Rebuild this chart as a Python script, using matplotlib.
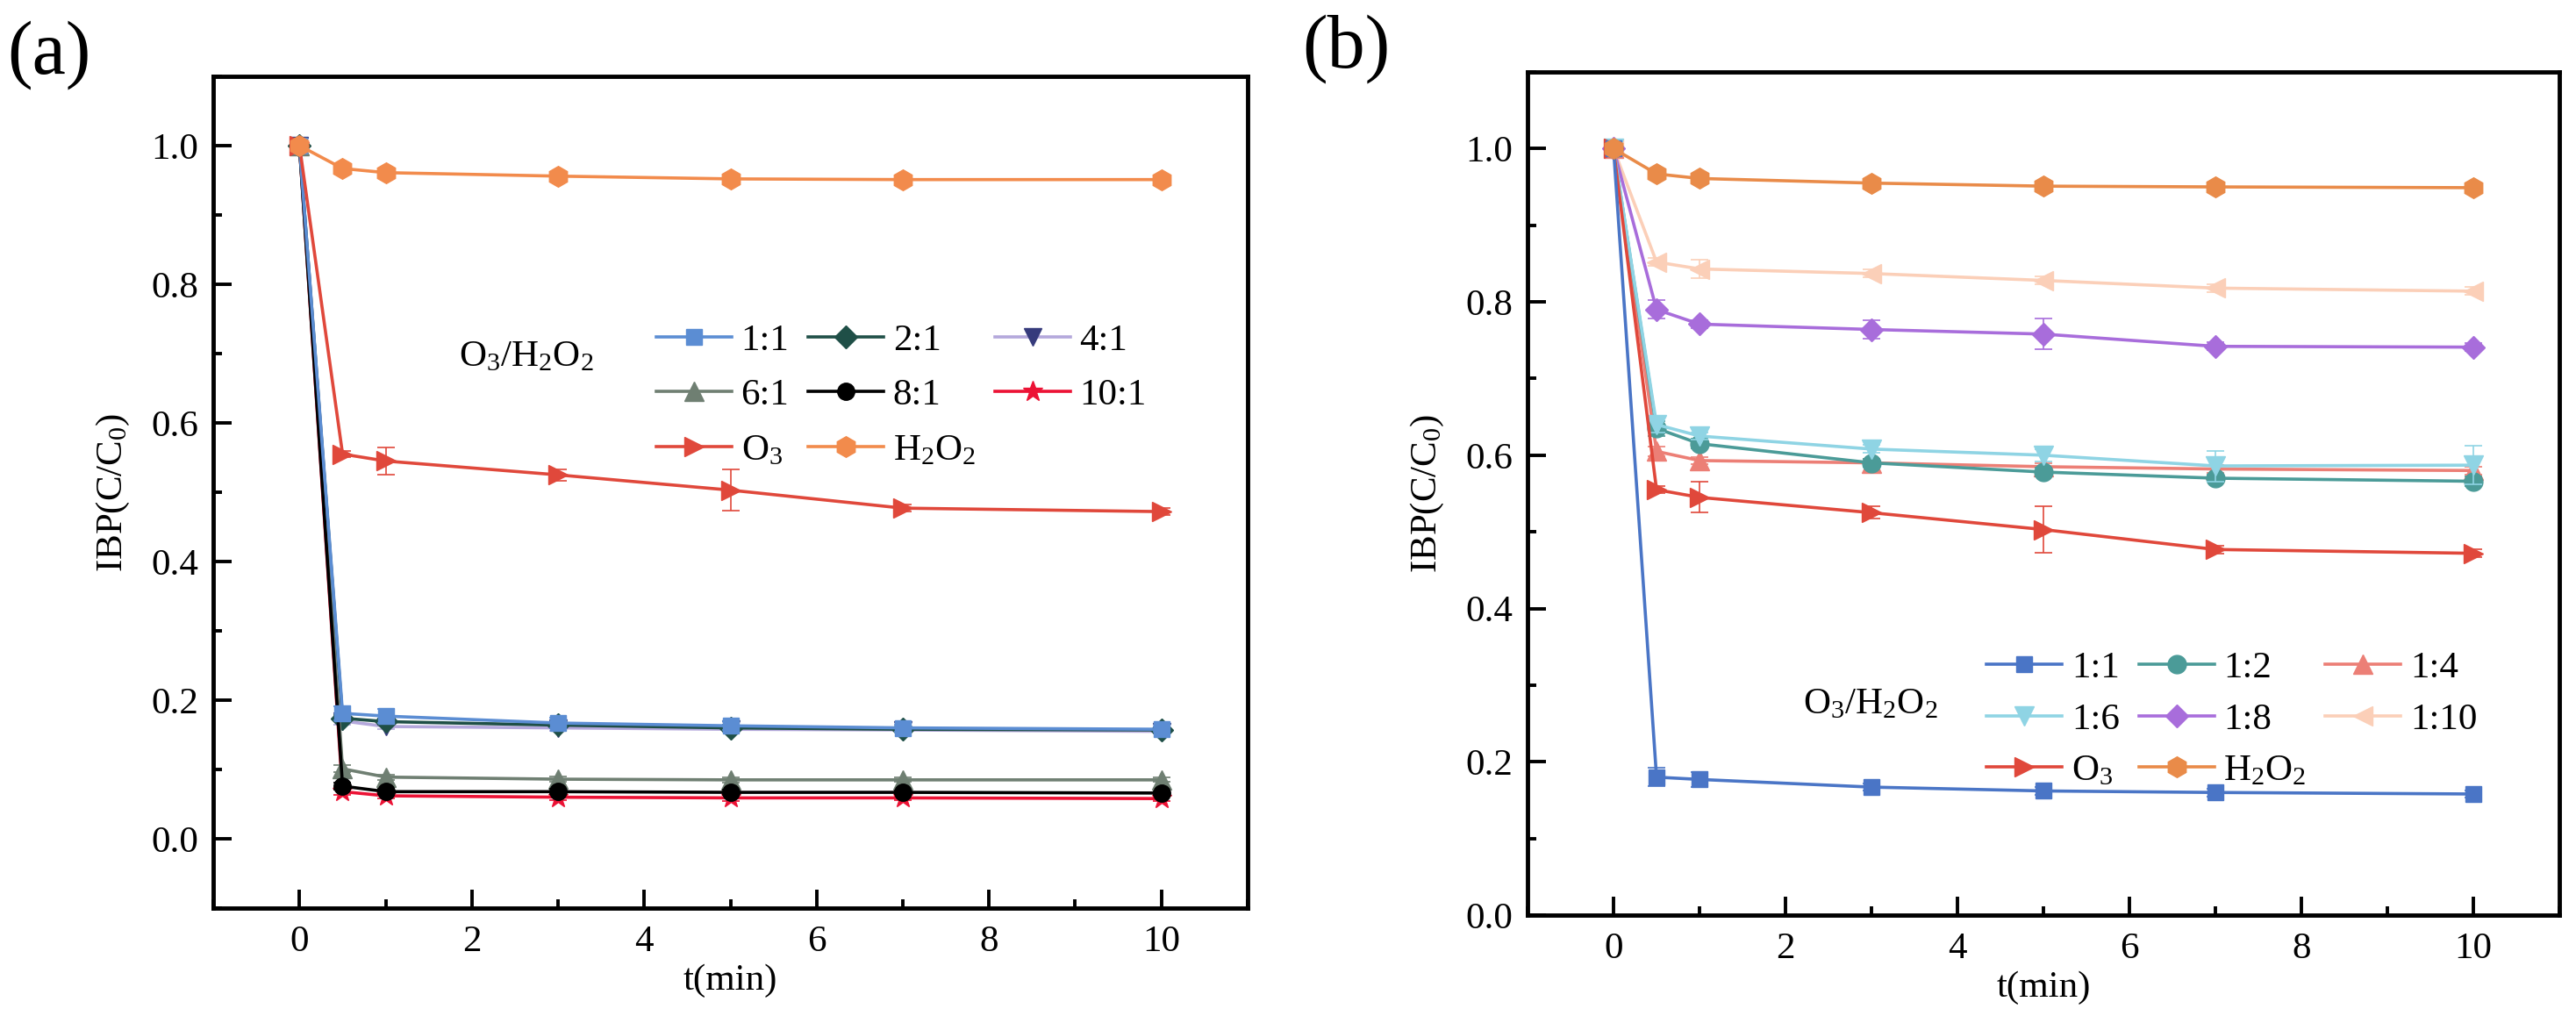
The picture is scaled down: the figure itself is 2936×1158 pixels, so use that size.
import numpy as np
import matplotlib.pyplot as plt
from matplotlib.ticker import MultipleLocator

plt.rcParams['font.family'] = ['Liberation Serif', 'DejaVu Serif']
plt.rcParams['mathtext.fontset'] = 'custom'
plt.rcParams['mathtext.rm'] = 'Liberation Serif'
plt.rcParams['mathtext.it'] = 'Liberation Serif:italic'

t = [0, 0.5, 1, 3, 5, 7, 10]

# (a) O3/H2O2 ratio series
a_11 = [1.0, 0.181, 0.177, 0.167, 0.163, 0.160, 0.158]
a_21 = [1.0, 0.174, 0.169, 0.164, 0.160, 0.158, 0.157]
a_41 = [1.0, 0.170, 0.162, 0.160, 0.158, 0.157, 0.155]
a_61 = [1.0, 0.101, 0.089, 0.086, 0.085, 0.085, 0.085]
a_81 = [1.0, 0.076, 0.068, 0.068, 0.067, 0.067, 0.066]
a_101 = [1.0, 0.068, 0.062, 0.060, 0.059, 0.059, 0.058]
a_o3 = [1.0, 0.555, 0.545, 0.525, 0.503, 0.477, 0.472]
a_h2o2 = [1.0, 0.967, 0.961, 0.956, 0.952, 0.951, 0.951]

a_11_err = [0, 0.010, 0.010, 0.008, 0.006, 0.005, 0.004]
a_small_err = [0, 0.005, 0.004, 0.004, 0.004, 0.003, 0.003]
a_o3_err = [0, 0.005, 0.020, 0.008, 0.030, 0.005, 0.005]

# (b) O3/H2O2 ratio series
b_11 = [1.0, 0.180, 0.177, 0.167, 0.162, 0.160, 0.158]
b_12 = [1.0, 0.635, 0.615, 0.590, 0.578, 0.570, 0.566]
b_14 = [1.0, 0.605, 0.593, 0.590, 0.585, 0.582, 0.580]
b_16 = [1.0, 0.640, 0.625, 0.608, 0.600, 0.586, 0.587]
b_18 = [1.0, 0.790, 0.771, 0.764, 0.758, 0.742, 0.741]
b_110 = [1.0, 0.852, 0.843, 0.837, 0.828, 0.818, 0.814]
b_o3 = [1.0, 0.555, 0.545, 0.525, 0.503, 0.477, 0.472]
b_h2o2 = [1.0, 0.967, 0.961, 0.955, 0.951, 0.950, 0.949]

b_11_err = [0, 0.012, 0.010, 0.005, 0.005, 0.005, 0.005]
b_12_err = [0, 0.010, 0.006, 0.005, 0.006, 0.005, 0.006]
b_14_err = [0, 0.006, 0.005, 0.005, 0.005, 0.005, 0.005]
b_16_err = [0, 0.010, 0.005, 0.005, 0.008, 0.020, 0.025]
b_18_err = [0, 0.012, 0.005, 0.012, 0.020, 0.005, 0.005]
b_110_err = [0, 0.005, 0.012, 0.005, 0.005, 0.005, 0.005]
b_o3_err = [0, 0.005, 0.020, 0.008, 0.030, 0.005, 0.005]
b_h2o2_err = [0, 0.003, 0.003, 0.003, 0.003, 0.003, 0.003]

FS = 31


def draw(ax, y, err, label, color, marker, ms=15, mfc=None, z=2):
    mfc = mfc or color
    ax.errorbar(t, y, yerr=err, fmt='none', ecolor=color, elinewidth=1.2,
                capsize=7, capthick=1.2, zorder=z)
    ax.plot(t, y, color=color, lw=2.6, marker=marker, ms=ms, mfc=mfc, mec=mfc,
            label=label, zorder=z)


def style(ax, ylo):
    ax.set_xlim(-1, 11)
    ax.set_ylim(ylo, 1.1)
    ax.xaxis.set_major_locator(MultipleLocator(2))
    ax.xaxis.set_minor_locator(MultipleLocator(1))
    ax.yaxis.set_major_locator(MultipleLocator(0.2))
    ax.yaxis.set_minor_locator(MultipleLocator(0.1))
    ax.yaxis.set_major_formatter(plt.FuncFormatter(lambda v, p: f'{v:.1f}'))
    ax.tick_params(which='major', direction='in', length=15, width=2.8, labelsize=FS)
    ax.tick_params(which='minor', direction='in', length=7, width=2.8)
    ax.tick_params(axis='y', pad=12)
    ax.tick_params(axis='x', pad=14)
    for s in ax.spines.values():
        s.set_linewidth(3.5)
    ax.set_xlabel('t(min)', fontsize=FS, labelpad=4)
    ax.set_ylabel('IBP(C/C$_0$)', fontsize=FS, labelpad=16)


def legend(ax, order, x, y, spacing):
    h, l = ax.get_legend_handles_labels()
    h = [h[i] for i in order]
    l = [l[i] for i in order]
    ax.legend(h, l, ncol=3, loc='upper left', bbox_to_anchor=(x, y), frameon=False,
              fontsize=FS, handlelength=2.0, handletextpad=0.25, columnspacing=0.5,
              labelspacing=spacing, borderpad=0, borderaxespad=0)


fig = plt.figure(figsize=(29.36, 11.58), dpi=100)
ax1 = fig.add_axes([0.0828, 0.1062, 0.4015, 0.8187])
ax2 = fig.add_axes([0.5930, 0.0993, 0.4005, 0.8299])

title = 'O$_3$/H$_2$O$_2$'

# panel (a)
draw(ax1, a_21, a_small_err, '2:1', '#1f4f47', 'D', ms=13, z=3)
draw(ax1, a_41, a_small_err, '4:1', '#b4a8dc', 'v', ms=15, mfc='#363b7c', z=2)
draw(ax1, a_11, a_11_err, '1:1', '#5b8dd3', 's', ms=13, z=4)
draw(ax1, a_61, a_small_err, '6:1', '#6f7f72', '^', ms=16, z=3)
draw(ax1, a_101, a_small_err, '10:1', '#ec1235', '*', ms=17, z=2)
draw(ax1, a_81, a_small_err, '8:1', '#000000', 'o', ms=14, z=3)
draw(ax1, a_o3, a_o3_err, 'O$_3$', '#e0483b', '>', ms=16, z=5)
draw(ax1, a_h2o2, a_small_err, 'H$_2$O$_2$', '#f28b4c', 'h', ms=17, z=6)
style(ax1, -0.1)
# handles: 0 2:1, 1 4:1, 2 1:1, 3 6:1, 4 10:1, 5 8:1, 6 O3, 7 H2O2
legend(ax1, [2, 3, 6, 0, 5, 7, 1, 4], 0.428, 0.703, 0.55)
ax1.text(1.85, 0.695, title, fontsize=FS, ha='left', va='center')

# panel (b)
draw(ax2, b_110, b_110_err, '1:10', '#fbcfb8', '<', ms=16, z=2)
draw(ax2, b_18, b_18_err, '1:8', '#a86ddb', 'D', ms=13, z=3)
draw(ax2, b_14, b_14_err, '1:4', '#ec7f76', '^', ms=16, z=3)
draw(ax2, b_12, b_12_err, '1:2', '#4b9b98', 'o', ms=15, z=3)
draw(ax2, b_16, b_16_err, '1:6', '#8fd4e4', 'v', ms=16, z=4)
draw(ax2, b_o3, b_o3_err, 'O$_3$', '#e0483b', '>', ms=16, z=5)
draw(ax2, b_11, b_11_err, '1:1', '#4a75c6', 's', ms=13, z=5)
draw(ax2, b_h2o2, b_h2o2_err, 'H$_2$O$_2$', '#e98b49', 'h', ms=17, z=6)
style(ax2, 0.0)
# handles: 0 1:10, 1 1:8, 2 1:4, 3 1:2, 4 1:6, 5 O3, 6 1:1, 7 H2O2
legend(ax2, [6, 4, 5, 3, 1, 7, 2, 0], 0.445, 0.313, 0.45)
ax2.text(2.2, 0.275, title, fontsize=FS, ha='left', va='center')

fig.text(0.019, 0.946, '(a)', fontsize=62, ha='center', va='center')
fig.text(0.5225, 0.952, '(b)', fontsize=62, ha='center', va='center')

fig.savefig('out.png', dpi=100)
